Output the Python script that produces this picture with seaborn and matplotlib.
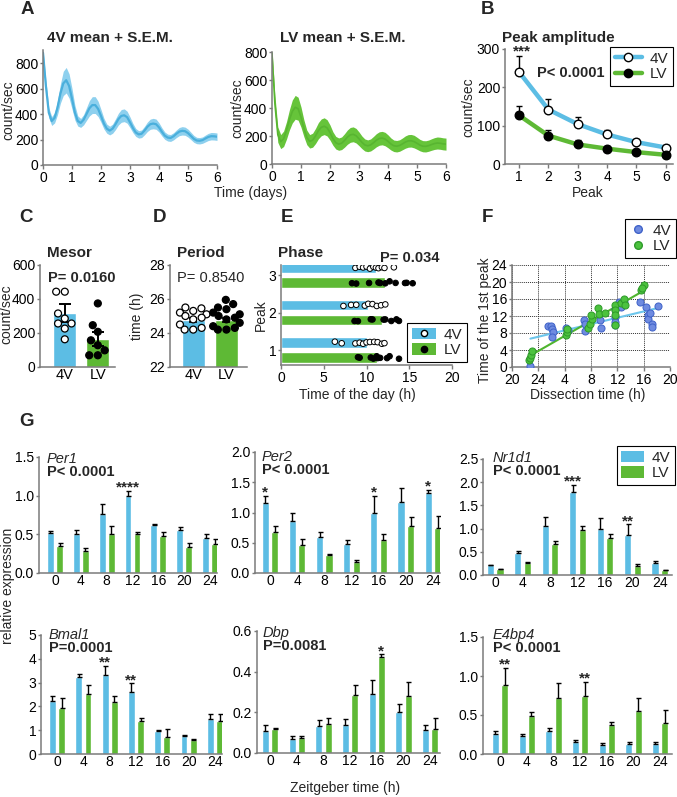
import numpy as np
import pandas as pd
import matplotlib
matplotlib.use("Agg")
import matplotlib.pyplot as plt
import seaborn as sns
from matplotlib.patches import Patch
from matplotlib.lines import Line2D
from matplotlib.legend_handler import HandlerTuple

# ------------------------------------------------------------------ data
# A: bioluminescence traces (sampled every 0.1 day)
t_days = np.round(np.arange(61) * 0.1, 1)
a4_mean = [880, 620, 410, 345, 370, 450, 560, 640, 665, 620,
           520, 410, 345, 330, 355, 400, 445, 470, 470, 440,
           385, 325, 285, 270, 285, 320, 360, 385, 390, 375,
           335, 290, 255, 240, 245, 270, 300, 320, 325, 320,
           295, 260, 230, 215, 212, 225, 245, 262, 268, 265,
           250, 228, 205, 192, 190, 195, 208, 220, 226, 225, 222]
a4_sem = [30, 45, 40, 35, 40, 55, 75, 95, 100, 95,
          80, 58, 40, 35, 40, 50, 60, 66, 66, 60,
          50, 42, 36, 34, 36, 42, 46, 50, 50, 47,
          42, 36, 31, 29, 30, 33, 37, 40, 41, 40,
          36, 32, 29, 27, 27, 28, 30, 32, 33, 32,
          31, 29, 27, 25, 25, 25, 27, 28, 29, 29, 29]
alv_mean = [790, 430, 210, 160, 180, 240, 315, 375, 405, 395,
            335, 255, 190, 162, 170, 200, 238, 262, 270, 258,
            225, 182, 152, 142, 148, 168, 192, 208, 212, 202,
            180, 155, 136, 130, 136, 152, 170, 182, 185, 178,
            162, 143, 130, 127, 132, 144, 157, 165, 166, 160,
            148, 135, 127, 126, 131, 139, 146, 150, 148, 144, 142]
alv_sem = [25, 60, 55, 50, 55, 62, 72, 82, 85, 82,
           72, 60, 52, 48, 50, 54, 58, 60, 60, 58,
           54, 48, 45, 44, 45, 48, 51, 53, 53, 52,
           49, 45, 43, 42, 43, 45, 47, 48, 48, 48,
           46, 43, 41, 41, 41, 42, 44, 45, 45, 45,
           43, 41, 40, 40, 40, 41, 42, 43, 43, 43, 43]

# B: peak amplitude
peak_num = [1, 2, 3, 4, 5, 6]
amp_4v = [240, 142, 104, 77, 57, 43]
amp_4v_err = [42, 28, 18, 13, 8, 7]
amp_lv = [127, 74, 51, 40, 31, 24]
amp_lv_err = [25, 16, 11, 6, 6, 5]

# C: mesor
groups = ["4V", "LV"]
mesor_mean = [318, 165]
mesor_sem = [55, 40]
mesor_4v_pts = [443, 443, 315, 285, 256, 256, 226, 163]
mesor_lv_pts = [374, 246, 207, 157, 128, 98, 69, 69]

# D: period
period_mean = [24.77, 24.75]
period_sem = [0.13, 0.13]
period_4v_pts = [25.5, 25.45, 25.3, 25.2, 25.1, 25.0, 24.9, 24.8, 24.5, 24.3, 24.2, 24.2]
period_lv_pts = [25.95, 25.7, 25.5, 25.4, 25.2, 25.1, 25.0, 24.9, 24.8, 24.6, 24.4, 24.3, 24.2, 24.2]

# E: phase
phase_peaks = [1, 2, 3]
phase_mean_4v = [10.0, 10.2, 11.1]
phase_mean_lv = [11.2, 11.8, 12.2]
phase_4v_p1 = [6.3, 7.1, 8.7, 9.2, 9.6, 10.0, 10.4, 10.9, 11.3, 11.8, 12.1]
phase_4v_p2 = [7.3, 8.2, 8.8, 9.8, 10.2, 10.7, 11.2, 11.7, 12.2]
phase_4v_p3 = [8.7, 9.2, 9.6, 10.0, 10.4, 10.8, 11.1, 11.4, 11.8, 12.1, 13.2]
phase_lv_p1 = [9.0, 9.2, 10.5, 10.8, 11.2, 11.3, 11.6, 12.4, 12.7, 13.8]
phase_lv_p2 = [8.6, 9.0, 10.5, 10.7, 12.0, 12.2, 12.9, 13.5, 13.8]
phase_lv_p3 = [8.3, 8.8, 10.3, 11.4, 11.6, 12.2, 12.7, 13.4, 14.5, 14.7, 15.4]

# F: dissection time (h, 24 -> 24, 4 -> 28 ...) vs time of first peak
f4_x = [22.8, 25.4, 25.9, 26.1, 26.2, 26.1, 28.2, 28.5, 31.0, 31.1, 31.1, 33.4, 33.5, 35.6,
        35.7, 35.7, 35.7, 36.3, 36.6, 37.0, 39.4, 40.3, 40.6, 40.7, 41.0, 41.2, 41.3, 42.2]
f4_y = [0.2, 9.7, 9.7, 9.0, 8.3, 7.1, 9.2, 8.7, 11.0, 10.2, 8.4, 11.0, 9.2, 13.6,
        11.8, 10.6, 9.8, 15.4, 14.2, 15.4, 15.4, 14.2, 12.2, 11.4, 12.6, 10.2, 9.4, 14.4]
flv_x = [22.6, 22.7, 22.9, 23.1, 28.2, 28.4, 28.4, 31.6, 31.9, 32.1, 32.0, 33.0, 33.2, 34.1,
         35.7, 35.7, 35.7, 35.7, 36.5, 37.0, 37.2, 39.6, 40.0, 39.8]
flv_y = [1.6, 2.1, 2.9, 3.7, 7.5, 8.3, 8.9, 9.2, 10.2, 11.3, 12.2, 13.8, 12.4, 12.8,
         14.7, 13.4, 12.2, 9.8, 15.0, 16.1, 14.7, 18.1, 19.3, 18.5]
f_ticks = [20, 24, 28, 32, 36, 40, 44]
f_ticklabels = ["20", "24", "4", "8", "12", "16", "20"]

# G: qPCR, relative expression
zt = [0, 4, 8, 12, 16, 20, 24]
per1_4v = [0.52, 0.51, 0.76, 0.99, 0.62, 0.55, 0.45]
per1_4v_err = [0.02, 0.05, 0.13, 0.07, 0.01, 0.04, 0.05]
per1_lv = [0.35, 0.28, 0.50, 0.51, 0.48, 0.33, 0.37]
per1_lv_err = [0.04, 0.04, 0.11, 0.02, 0.05, 0.06, 0.07]
per2_4v = [1.15, 0.86, 0.60, 0.48, 1.00, 1.17, 1.33]
per2_4v_err = [0.12, 0.14, 0.07, 0.06, 0.28, 0.24, 0.05]
per2_lv = [0.67, 0.47, 0.30, 0.19, 0.54, 0.78, 0.75]
per2_lv_err = [0.11, 0.10, 0.02, 0.03, 0.11, 0.15, 0.19]
nr1d1_4v = [0.21, 0.48, 1.06, 1.79, 1.00, 0.87, 0.26]
nr1d1_4v_err = [0.01, 0.03, 0.20, 0.16, 0.23, 0.22, 0.04]
nr1d1_lv = [0.13, 0.26, 0.66, 0.98, 0.79, 0.19, 0.10]
nr1d1_lv_err = [0.01, 0.02, 0.07, 0.07, 0.10, 0.04, 0.01]
bmal1_4v = [2.23, 3.25, 3.32, 2.62, 0.97, 0.77, 1.47]
bmal1_4v_err = [0.22, 0.10, 0.38, 0.35, 0.05, 0.03, 0.23]
bmal1_lv = [1.92, 2.52, 2.17, 1.37, 0.73, 0.59, 1.40]
bmal1_lv_err = [0.43, 0.37, 0.27, 0.16, 0.33, 0.06, 0.30]
dbp_4v = [0.11, 0.07, 0.135, 0.14, 0.29, 0.20, 0.115]
dbp_4v_err = [0.03, 0.015, 0.025, 0.025, 0.07, 0.04, 0.025]
dbp_lv = [0.118, 0.075, 0.145, 0.285, 0.47, 0.28, 0.12]
dbp_lv_err = [0.005, 0.01, 0.025, 0.05, 0.015, 0.07, 0.05]
e4bp4_4v = [0.26, 0.23, 0.29, 0.16, 0.12, 0.13, 0.13]
e4bp4_4v_err = [0.03, 0.03, 0.04, 0.02, 0.02, 0.02, 0.02]
e4bp4_lv = [0.88, 0.49, 0.72, 0.75, 0.37, 0.55, 0.40]
e4bp4_lv_err = [0.22, 0.05, 0.19, 0.17, 0.04, 0.17, 0.16]

# ------------------------------------------------------------------ style
sns.set_theme(style="ticks")
plt.rcParams["font.family"] = ["Liberation Sans", "DejaVu Sans"]
plt.rcParams["font.size"] = 10
plt.rcParams["mathtext.default"] = "regular"

BLUE = "#5CBDE4"
GREEN = "#5EB935"
SPINE = "#7a7a7a"
TICK_FS = 10
LAB_FS = 10
W, H = 677, 797
fig = plt.figure(figsize=(W / 100, H / 100), dpi=100)


def add_ax(l, t, r, b):
    return fig.add_axes([l / W, 1 - b / H, (r - l) / W, (b - t) / H])


def style(ax, xtick_len=3):
    sns.despine(ax=ax)
    for s in ["left", "bottom"]:
        ax.spines[s].set_color(SPINE)
        ax.spines[s].set_linewidth(1.1)
    ax.tick_params(axis="both", colors=SPINE, labelcolor="black", length=2.5,
                   width=1, labelsize=TICK_FS, pad=1)
    ax.tick_params(axis="x", length=xtick_len)
    ax.set_xlabel("")
    ax.set_ylabel("")


def ftext(x, y, s, **kw):
    kw.setdefault("ha", "left")
    kw.setdefault("va", "center")
    fig.text(x / W, 1 - y / H, s, **kw)


def boxed_legend(ax, handles, labels, x, y, loc, **kw):
    leg = ax.legend(handles, labels, loc=loc, bbox_to_anchor=(x / W, 1 - y / H),
                    bbox_transform=fig.transFigure, frameon=True, fancybox=False,
                    edgecolor="black", framealpha=1, fontsize=11, borderpad=0.3,
                    labelspacing=0.1, handletextpad=0.5, borderaxespad=0, **kw)
    leg.get_frame().set_linewidth(0.8)
    return leg


def stars_at(ax, x, y, s):
    ax.annotate(s, (x, y), xytext=(0, -0.5), textcoords="offset points", ha="center",
                va="baseline", fontsize=11, fontweight="bold")


# ------------------------------------------------------------------ A
axA1 = add_ax(43, 50.25, 217, 165)
axA1.fill_between(t_days, np.array(a4_mean) - np.array(a4_sem),
                  np.array(a4_mean) + np.array(a4_sem), color="#8ED0EE", lw=0)
sns.lineplot(x=t_days, y=a4_mean, color="#4AAFDC", lw=1.6, ax=axA1)
axA1.set_xlim(0, 6)
axA1.set_ylim(0, 900)
axA1.set_yticks([0, 200, 400, 600, 800])
axA1.set_xticks(range(7))
style(axA1)

axA2 = add_ax(272, 52, 446, 164)
axA2.fill_between(t_days, np.array(alv_mean) - np.array(alv_sem),
                  np.array(alv_mean) + np.array(alv_sem), color="#66C43A", lw=0)
sns.lineplot(x=t_days, y=alv_mean, color="#58B531", lw=1.2, ax=axA2)
axA2.set_xlim(0, 6)
axA2.set_ylim(0, 800)
axA2.set_yticks([0, 200, 400, 600, 800])
axA2.set_xticks(range(7))
style(axA2)

ftext(47, 38, "4V mean + S.E.M.", fontsize=11, fontweight="bold")
ftext(343, 38, "LV mean + S.E.M.", fontsize=11, fontweight="bold", ha="center")
ftext(251, 193, "Time (days)", fontsize=LAB_FS, ha="center")
ftext(8, 110, "count/sec", fontsize=LAB_FS, ha="center", rotation=90)
ftext(237.5, 108, "count/sec", fontsize=LAB_FS, ha="center", rotation=90)

# ------------------------------------------------------------------ B
axB = add_ax(505, 49, 673, 164)
axB.errorbar(peak_num, amp_4v, yerr=[[0] * 6, amp_4v_err], fmt="none", ecolor="black",
             elinewidth=1, capsize=2.5, capthick=1, zorder=3)
axB.errorbar(peak_num, amp_lv, yerr=[[0] * 6, amp_lv_err], fmt="none", ecolor="black",
             elinewidth=1, capsize=2.5, capthick=1, zorder=3)
sns.lineplot(x=peak_num, y=amp_4v, color=BLUE, lw=3.2, ax=axB, zorder=2)
sns.lineplot(x=peak_num, y=amp_lv, color=GREEN, lw=3.2, ax=axB, zorder=2)
sns.scatterplot(x=peak_num, y=amp_4v, color="white", edgecolor="black", linewidth=1,
                s=38, ax=axB, zorder=4)
sns.scatterplot(x=peak_num, y=amp_lv, color="black", edgecolor="black", linewidth=1,
                s=38, ax=axB, zorder=4)
axB.set_xlim(0.52, 6.25)
axB.set_ylim(0, 300)
axB.set_xticks(peak_num)
axB.set_yticks([0, 100, 200, 300])
style(axB)
stars_at(axB, 1.1, amp_4v[0] + amp_4v_err[0] + 4, "***")
ftext(502, 38, "Peak amplitude", fontsize=11, fontweight="bold")
ftext(537, 73, "P< 0.0001", fontsize=10.5, fontweight="bold")
ftext(588, 193, "Peak", fontsize=LAB_FS, ha="center")
ftext(468, 107, "count/sec", fontsize=LAB_FS, ha="center", rotation=90)
hB = [Line2D([], [], color=BLUE, lw=3.2, marker="o", mfc="white", mec="black", ms=6),
      Line2D([], [], color=GREEN, lw=3.2, marker="o", mfc="black", mec="black", ms=6)]
boxed_legend(axB, hB, ["4V", "LV"], 673, 47, "upper right", handlelength=1.8)

# ------------------------------------------------------------------ C
axC = add_ax(40, 265, 115, 367)
sns.barplot(x=groups, y=mesor_mean, hue=groups, palette=[BLUE, GREEN], width=0.7,
            saturation=1, errorbar=None, legend=False, ax=axC)
axC.errorbar([0, 1], mesor_mean, yerr=mesor_sem, fmt="none", ecolor="black",
             elinewidth=1.4, capsize=4, capthick=1.4, zorder=3)
dfC = pd.DataFrame({"g": ["4V"] * len(mesor_4v_pts) + ["LV"] * len(mesor_lv_pts),
                    "v": mesor_4v_pts + mesor_lv_pts})
sns.swarmplot(data=dfC, x="g", y="v", hue="g", palette={"4V": "white", "LV": "black"},
              edgecolor="black", linewidth=0.9, size=5, legend=False, ax=axC, zorder=4)
axC.set_xlim(-0.75, 1.52)
axC.set_ylim(0, 600)
axC.set_yticks([0, 200, 400, 600])
style(axC, xtick_len=0)
axC.tick_params(axis="x", labelsize=10.5)
ftext(47, 253, "Mesor", fontsize=11, fontweight="bold")
ftext(48, 278, "P= 0.0160", fontsize=10.5, fontweight="bold")
ftext(6.5, 314, "count/sec", fontsize=LAB_FS, ha="center", rotation=90)

# ------------------------------------------------------------------ D
axD = add_ax(170, 265, 247, 367)
sns.barplot(x=groups, y=period_mean, hue=groups, palette=[BLUE, GREEN], width=0.7,
            saturation=1, errorbar=None, legend=False, ax=axD)
axD.errorbar([0, 1], period_mean, yerr=period_sem, fmt="none", ecolor="black",
             elinewidth=1.2, capsize=3, capthick=1.2, zorder=3)
dfD = pd.DataFrame({"g": ["4V"] * len(period_4v_pts) + ["LV"] * len(period_lv_pts),
                    "v": period_4v_pts + period_lv_pts})
sns.swarmplot(data=dfD, x="g", y="v", hue="g", palette={"4V": "white", "LV": "black"},
              edgecolor="black", linewidth=0.9, size=5, legend=False, ax=axD, zorder=4)
axD.set_xlim(-0.7, 1.62)
axD.set_ylim(22, 28)
axD.set_yticks([22, 24, 26, 28])
style(axD, xtick_len=0)
axD.tick_params(axis="x", labelsize=10.5)
ftext(177, 253, "Period", fontsize=11, fontweight="bold")
ftext(177, 278, "P= 0.8540", fontsize=10.5)
ftext(137, 316, "time (h)", fontsize=LAB_FS, ha="center", rotation=90)

# ------------------------------------------------------------------ E
axE = add_ax(281, 265, 452, 365)
dfEbar = pd.DataFrame({"peak": phase_peaks * 2, "time": phase_mean_4v + phase_mean_lv,
                       "g": ["4V"] * 3 + ["LV"] * 3})
sns.barplot(data=dfEbar, x="time", y="peak", hue="g", hue_order=["LV", "4V"],
            palette={"4V": BLUE, "LV": GREEN}, orient="h", native_scale=True,
            width=0.8, gap=0.3, saturation=1, errorbar=None, legend=False, ax=axE)
e_pts = {("4V", 1): phase_4v_p1, ("4V", 2): phase_4v_p2, ("4V", 3): phase_4v_p3,
         ("LV", 1): phase_lv_p1, ("LV", 2): phase_lv_p2, ("LV", 3): phase_lv_p3}
rows = [(g, p, v) for (g, p), vals in e_pts.items() for v in vals]
dfEpt = pd.DataFrame(rows, columns=["g", "peak", "time"])
sns.stripplot(data=dfEpt, x="time", y="peak", hue="g", hue_order=["LV", "4V"],
              palette={"4V": "white", "LV": "black"}, orient="h", native_scale=True,
              dodge=True, jitter=0.07, size=4, edgecolor="black", linewidth=0.7,
              legend=False, ax=axE, zorder=4)
axE.set_xlim(0, 20)
axE.set_ylim(0.6, 3.27)
axE.set_xticks([0, 5, 10, 15, 20])
axE.set_yticks([1, 2, 3])
style(axE)
ftext(278, 253, "Phase", fontsize=11, fontweight="bold")
ftext(380, 258, "P= 0.034", fontsize=10.5, fontweight="bold")
ftext(261, 315, "Peak", fontsize=LAB_FS, ha="center", rotation=90)
ftext(357, 395, "Time of the day (h)", fontsize=LAB_FS, ha="center")
hE = [(Patch(fc=BLUE, ec="none"),
       Line2D([], [], ls="", marker="o", mfc="white", mec="black", ms=4.5)),
      (Patch(fc=GREEN, ec="none"),
       Line2D([], [], ls="", marker="o", mfc="black", mec="black", ms=4.5))]
boxed_legend(axE, hE, ["4V", "LV"], 467, 362, "lower right",
             handler_map={tuple: HandlerTuple(ndivide=1)}, handlelength=1.6,
             handleheight=0.8)

# ------------------------------------------------------------------ F
axF = add_ax(512, 265, 670, 367)
axF.grid(True, ls=(0, (1, 1)), color="#333333", lw=0.7)
axF.set_axisbelow(True)
sns.regplot(x=f4_x, y=f4_y, scatter=False, ci=None, color="#6CC6EC",
            line_kws={"lw": 1.5}, ax=axF)
sns.regplot(x=flv_x, y=flv_y, scatter=False, ci=None, color="#4FB52E",
            line_kws={"lw": 1.5}, ax=axF)
sns.scatterplot(x=f4_x, y=f4_y, color="#6F8BE0", edgecolor="#3F62C8", linewidth=0.7,
                s=26, ax=axF, zorder=4)
sns.scatterplot(x=flv_x, y=flv_y, color="#4CC23E", edgecolor="#2E9A2A", linewidth=0.7,
                s=26, ax=axF, zorder=5)
axF.set_xlim(20, 44)
axF.set_ylim(0, 24)
axF.set_xticks(f_ticks)
axF.set_xticklabels(f_ticklabels)
axF.set_yticks(range(0, 25, 4))
style(axF)
ftext(485, 320, "Time of the 1st peak", fontsize=LAB_FS, ha="center", rotation=90)
ftext(588, 395, "Dissection time (h)", fontsize=LAB_FS, ha="center")
hF = [Line2D([], [], ls="", marker="o", mfc="#6F8BE0", mec="#3F62C8", ms=5.5),
      Line2D([], [], ls="", marker="o", mfc="#4CC23E", mec="#2E9A2A", ms=5.5)]
boxed_legend(axF, hF, ["4V", "LV"], 676, 219, "upper right", handlelength=1.0)

# ------------------------------------------------------------------ G
def gene_panel(box, xl, v4, e4, vl, el, ymax, yticks, ytl, name, pval, name_xy, stars):
    ax = add_ax(*box)
    df = pd.DataFrame({"ZT": [str(z) for z in zt] * 2, "g": ["4V"] * 7 + ["LV"] * 7,
                       "val": v4 + vl})
    sns.barplot(data=df, x="ZT", y="val", hue="g", palette={"4V": BLUE, "LV": GREEN},
                width=0.7, gap=0.25, saturation=1, errorbar=None, legend=False, ax=ax)
    tops = {}
    for cont, vals, errs, g in zip(ax.containers, [v4, vl], [e4, el], ["4V", "LV"]):
        for i, (bar, e) in enumerate(zip(cont, errs)):
            xc = bar.get_x() + bar.get_width() / 2
            h = bar.get_height()
            ax.errorbar(xc, h, yerr=[[0], [e]], fmt="none", ecolor="black",
                        elinewidth=1, capsize=1.8, capthick=1, zorder=3)
            tops[(g, i)] = (xc, h + e)
    for (g, i), s in stars.items():
        xc, top = tops[(g, i)]
        stars_at(ax, xc, top, s)
    ax.set_xlim(*xl)
    ax.set_ylim(0, ymax)
    ax.set_yticks(yticks)
    ax.set_yticklabels(ytl)
    style(ax, xtick_len=0)
    ftext(name_xy[0], name_xy[1], name, fontsize=10.5, style="italic")
    ftext(name_xy[0], name_xy[1] + 13, pval, fontsize=10.5, fontweight="bold")
    return ax


gene_panel((39, 457, 217, 573), (-0.62, 6.27), per1_4v, per1_4v_err, per1_lv, per1_lv_err,
           1.5, [0, 0.5, 1.0, 1.5], ["0.0", "0.5", "1.0", "1.5"], "Per1", "P< 0.0001",
           (47, 459), {("4V", 3): "****"})
gene_panel((255, 452, 440, 573), (-0.55, 6.26), per2_4v, per2_4v_err, per2_lv, per2_lv_err,
           2.0, [0, 0.5, 1.0, 1.5, 2.0], ["0.0", "0.5", "1.0", "1.5", "2.0"], "Per2",
           "P< 0.0001", (262, 457), {("4V", 0): "*", ("4V", 4): "*", ("4V", 6): "*"})
axNr = gene_panel((483, 459, 672, 575), (-0.44, 6.44), nr1d1_4v, nr1d1_4v_err, nr1d1_lv,
                  nr1d1_lv_err, 2.5, [0, 0.5, 1.0, 1.5, 2.0, 2.5],
                  ["0.0", "0.5", "1.0", "1.5", "2.0", "2.5"], "Nr1d1", "P< 0.0001",
                  (493, 458), {("4V", 3): "***", ("4V", 5): "**"})
gene_panel((41, 635, 222, 754), (-0.61, 6.27), bmal1_4v, bmal1_4v_err, bmal1_lv,
           bmal1_lv_err, 5, [0, 1, 2, 3, 4, 5], ["0", "1", "2", "3", "4", "5"], "Bmal1",
           "P=0.0001", (49, 635), {("4V", 2): "**", ("4V", 3): "**"})
gene_panel((257, 631, 440, 753), (-0.49, 6.375), dbp_4v, dbp_4v_err, dbp_lv, dbp_lv_err,
           0.6, [0, 0.2, 0.4, 0.6], ["0.0", "0.2", "0.4", "0.6"], "Dbp", "P=0.0081",
           (263, 633), {("LV", 4): "*"})
gene_panel((483, 637, 672, 754), (-0.64, 6.45), e4bp4_4v, e4bp4_4v_err, e4bp4_lv,
           e4bp4_lv_err, 1.5, [0, 0.5, 1.0, 1.5], ["0.0", "0.5", "1.0", "1.5"], "E4bp4",
           "P< 0.0001", (493, 635), {("LV", 0): "**", ("LV", 3): "**"})

hG = [Patch(fc=BLUE, ec="none"), Patch(fc=GREEN, ec="none")]
boxed_legend(axNr, hG, ["4V", "LV"], 675, 446, "upper right", handlelength=1.5,
             handleheight=0.8)

ftext(8, 586, "relative expression", fontsize=LAB_FS, ha="center", rotation=90)
ftext(345, 788, "Zeitgeber time (h)", fontsize=LAB_FS, ha="center")

# panel letters
for letter, (x, y) in {"A": (27, 10), "B": (488, 10), "C": (26, 218), "D": (160, 218),
                       "E": (287, 218), "F": (487, 218), "G": (27, 421)}.items():
    ftext(x, y, letter, fontsize=13.5, fontweight="bold", ha="center")

fig.savefig("out.png", dpi=100)
